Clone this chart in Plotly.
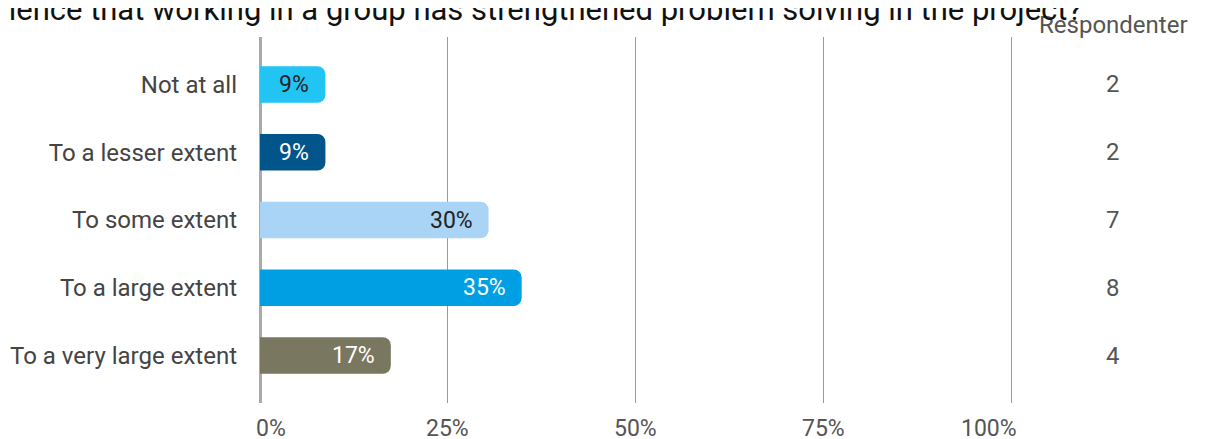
import plotly.graph_objects as go

categories = ["Not at all", "To a lesser extent", "To some extent", "To a large extent", "To a very large extent"]
percent = [8.7, 8.7, 30.4, 34.8, 17.4]
respondents = [2, 2, 7, 8, 4]
bar_colors = ["#22C4F4", "#02558B", "#A9D4F5", "#009FE3", "#7A7761"]
label_colors = ["#222222", "#ffffff", "#222222", "#ffffff", "#ffffff"]
x_ticks = [0, 25, 50, 75, 100]
x_tick_labels = ["0%", "25%", "50%", "75%", "100%"]
title = "To what extent do you experience that working in a group has strengthened problem solving in the project?"
count_header = "Respondenter"

# page has an 8px body margin; layout offsets compensate for it
W, H = 1205, 439
L, R, T, B = 252, 200, 29, 44
pw = W - L - R

fig = go.Figure()
fig.add_trace(go.Bar(
    x=percent, y=categories, orientation="h",
    marker=dict(color=bar_colors, line=dict(width=0), cornerradius=8),
    width=0.54, hoverinfo="skip",
))

ann = []
for c, p, col in zip(categories, percent, label_colors):
    ann.append(dict(x=p, y=c, xref="x", yref="y", text=f"{round(p)}%", showarrow=False,
                    xanchor="right", xshift=-14, font=dict(family="Roboto", size=23, color=col)))
for c, n in zip(categories, respondents):
    ann.append(dict(x=(1105 - L) / pw, y=c, xref="paper", yref="y", text=str(n), showarrow=False,
                    xanchor="center", font=dict(family="Roboto", size=24, color="#555555")))
ann.append(dict(x=(1105 - L) / pw, y=1, xref="paper", yref="paper", yshift=12, text=count_header,
                showarrow=False, xanchor="center", yanchor="middle",
                font=dict(family="Roboto", size=24, color="#555555")))
for i, (v, t) in enumerate(zip(x_ticks, x_tick_labels)):
    xa = "left" if i == 0 else ("right" if i == len(x_ticks) - 1 else "center")
    ann.append(dict(x=v, y=0, xref="x", yref="paper", yanchor="middle", yshift=-25, text=t,
                    showarrow=False, xanchor=xa, xshift=(-6 if i == 0 else (7 if i == len(x_ticks) - 1 else 0)),
                    font=dict(family="Roboto", size=23, color="#555555")))
ann.append(dict(x=(1076 - L) / pw, y=1, xref="paper", yref="paper", yshift=T - 1, yanchor="middle",
                xanchor="right", text=title, showarrow=False,
                font=dict(family="Roboto", size=31, color="#111111")))

fig.update_layout(
    width=W, height=H, margin=dict(l=L, r=R, t=T, b=B, autoexpand=False),
    paper_bgcolor="white", plot_bgcolor="white", showlegend=False,
    annotations=ann,
    xaxis=dict(range=[0, 100.15], tickvals=x_ticks, showticklabels=False, showgrid=True,
               gridcolor="#9a9a9a", gridwidth=1, zeroline=True, zerolinecolor="#aaaaaa",
               zerolinewidth=3, fixedrange=True, automargin=False),
    yaxis=dict(categoryorder="array", categoryarray=categories, range=[4.7, -0.7],
               ticks="", ticklabelstandoff=22, showgrid=False, zeroline=False, automargin=False,
               tickfont=dict(family="Roboto", size=24, color="#444444")),
)
fig.write_html("out.html")
